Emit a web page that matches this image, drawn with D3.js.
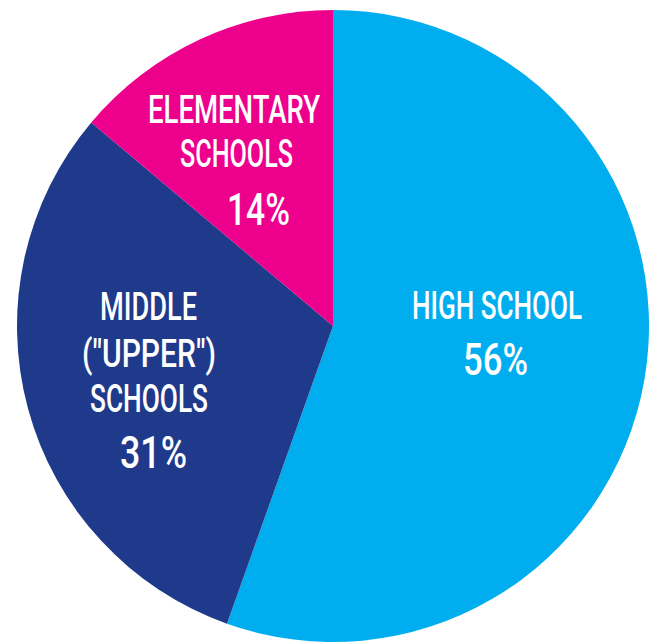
<!DOCTYPE html>
<html><head><meta charset="utf-8">
<script src="https://cdn.jsdelivr.net/npm/d3@7"></script>
<style>html,body{margin:0;padding:0;background:#fff;overflow:hidden}</style>
</head><body>
<svg id="c" width="652" height="642"></svg>
<script>
const categories = ["HIGH SCHOOL", "MIDDLE (\"UPPER\") SCHOOLS", "ELEMENTARY SCHOOLS"];
const values = [56, 31, 14];
const labelLines = [["HIGH SCHOOL"], ["MIDDLE", "(\"UPPER\")", "SCHOOLS"], ["ELEMENTARY", "SCHOOLS"]];
const pctLabels = ["56%", "31%", "14%"];
const colors = ["#00aeef", "#1f3a8b", "#ec008c"];

// label layout (positions per line: [centerX, baselineY, width])
const layout = [
  {lines: [[497, 319, 170]], pct: [495.5, 375, 65]},
  {lines: [[148.5, 320, 97], [149, 367, 134], [149, 412, 118]], pct: [153.5, 468, 67]},
  {lines: [[234, 123, 172], [236.5, 167, 113]], pct: [258.5, 225, 63]}
];

const svg = d3.select("#c");
const cx = 333, cy = 326, R = 316;
const pie = d3.pie().sort(null).value(d => d)(values);
const arc = d3.arc().innerRadius(0).outerRadius(R);
const g = svg.append("g").attr("transform", `translate(${cx},${cy})`);
g.selectAll("path").data(pie).join("path")
  .attr("d", arc).attr("fill", (d, i) => colors[i]);

const font = "Roboto, 'Noto Sans', sans-serif";
layout.forEach((L, i) => {
  labelLines[i].forEach((t, j) => {
    const [x, y, w] = L.lines[j];
    svg.append("text").attr("x", x).attr("y", y).attr("text-anchor", "middle")
      .attr("font-family", font).attr("font-weight", 500).attr("font-size", 39)
      .attr("fill", "#fff").attr("textLength", w).attr("lengthAdjust", "spacingAndGlyphs")
      .text(t);
  });
  const [x, y, w] = L.pct;
  svg.append("text").attr("x", x).attr("y", y).attr("text-anchor", "middle")
    .attr("font-family", font).attr("font-weight", 500).attr("font-size", 44)
    .attr("fill", "#fff").attr("textLength", w).attr("lengthAdjust", "spacingAndGlyphs")
    .text(pctLabels[i]);
});
</script>
</body></html>
